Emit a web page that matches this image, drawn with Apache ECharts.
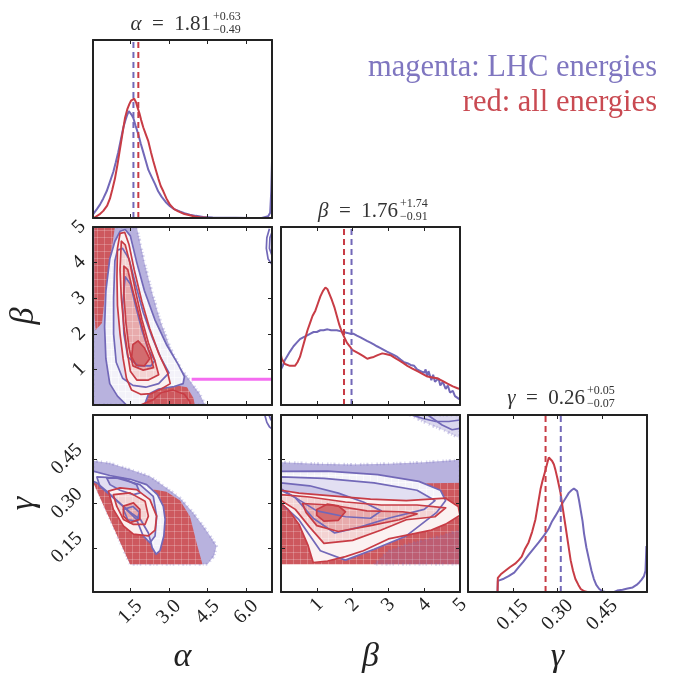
<!DOCTYPE html>
<html>
<head>
<meta charset="utf-8">
<script src="https://cdn.jsdelivr.net/npm/echarts@6/dist/echarts.min.js"></script>
<style>
html, body { margin: 0; padding: 0; background: #fff; }
#chart { width: 674px; height: 675px; }
</style>
</head>
<body>
<div id="chart"></div>
<script>
// tick values of the three parameters
const alphaTicks = [1.5, 3.0, 4.5, 6.0];
const betaTicks = [1, 2, 3, 4, 5];
const gammaTicks = [0.15, 0.30, 0.45];

// medians (dashed lines): alpha, beta, gamma
const medianAll = [1.81, 1.76, 0.26];
const medianLhc = [1.62, 1.97, 0.311];

// title texts: name, median, plus, minus
const titleAlpha = ['α', '1.81', '+0.63', '−0.49'];
const titleBeta = ['β', '1.76', '+1.74', '−0.91'];
const titleGamma = ['γ', '0.26', '+0.05', '−0.07'];

// 1D marginals, [value, density scaled to panel height]
const alphaHistAll = [[0.08,0],[0.15,0.01],[0.3,0.02],[0.45,0.04],[0.6,0.07],[0.71,0.11],[0.8,0.16],[0.9,0.22],[1.0,0.3],[1.1,0.39],[1.2,0.48],[1.29,0.56],[1.38,0.61],[1.46,0.64],[1.53,0.66],[1.59,0.66],[1.65,0.67],[1.72,0.65],[1.78,0.62],[1.85,0.59],[1.92,0.55],[2.0,0.51],[2.1,0.47],[2.2,0.43],[2.3,0.37],[2.39,0.32],[2.49,0.27],[2.59,0.22],[2.68,0.18],[2.78,0.15],[2.9,0.11],[3.04,0.075],[3.2,0.05],[3.36,0.037],[3.6,0.022],[3.81,0.015],[4.0,0.008],[4.2,0.004],[4.5,0.001],[5.0,0],[7.0,0]];
const alphaHistLhc = [[0.05,0.02],[0.09,0.03],[0.2,0.05],[0.32,0.075],[0.45,0.11],[0.58,0.15],[0.7,0.2],[0.84,0.26],[0.93,0.31],[1.03,0.37],[1.13,0.44],[1.23,0.51],[1.31,0.55],[1.38,0.58],[1.44,0.6],[1.49,0.6],[1.55,0.58],[1.62,0.56],[1.7,0.52],[1.81,0.47],[1.9,0.42],[2.0,0.37],[2.1,0.32],[2.2,0.27],[2.33,0.23],[2.46,0.19],[2.58,0.15],[2.71,0.12],[2.87,0.09],[3.04,0.066],[3.2,0.05],[3.42,0.037],[3.6,0.027],[3.81,0.019],[4.05,0.012],[4.33,0.006],[4.7,0.003],[5.1,0.002],[5.6,0.001],[6.2,0],[6.6,0],[6.85,0.01],[6.93,0.03],[6.97,0.15],[7.0,0.32]];
const betaHistAll = [[0.0,0.28],[0.02,0.26],[0.11,0.23],[0.25,0.22],[0.39,0.22],[0.46,0.24],[0.53,0.27],[0.6,0.32],[0.67,0.37],[0.74,0.42],[0.81,0.46],[0.88,0.5],[0.96,0.53],[1.03,0.57],[1.1,0.61],[1.17,0.64],[1.24,0.66],[1.3,0.65],[1.36,0.62],[1.42,0.59],[1.49,0.55],[1.56,0.5],[1.63,0.45],[1.7,0.41],[1.77,0.38],[1.84,0.35],[1.92,0.33],[1.99,0.31],[2.08,0.3],[2.17,0.29],[2.3,0.275],[2.41,0.26],[2.5,0.265],[2.59,0.27],[2.7,0.28],[2.83,0.29],[2.95,0.285],[3.06,0.28],[3.18,0.265],[3.3,0.25],[3.42,0.235],[3.53,0.22],[3.67,0.205],[3.81,0.19],[3.95,0.175],[4.09,0.16],[4.23,0.155],[4.37,0.15],[4.51,0.135],[4.65,0.12],[4.8,0.105],[4.93,0.094],[5.0,0.09]];
const betaHistLhc = [[0.0,0.2],[0.05,0.22],[0.1,0.25],[0.16,0.27],[0.25,0.3],[0.35,0.33],[0.44,0.35],[0.53,0.37],[0.62,0.38],[0.72,0.39],[0.81,0.4],[0.91,0.41],[1.0,0.41],[1.1,0.42],[1.19,0.42],[1.3,0.425],[1.4,0.42],[1.47,0.42],[1.56,0.42],[1.65,0.415],[1.75,0.41],[1.85,0.405],[1.94,0.4],[2.03,0.4],[2.12,0.39],[2.22,0.38],[2.31,0.37],[2.4,0.36],[2.5,0.35],[2.59,0.34],[2.68,0.33],[2.78,0.32],[2.87,0.31],[2.96,0.3],[3.06,0.29],[3.16,0.28],[3.25,0.27],[3.34,0.255],[3.44,0.24],[3.53,0.235],[3.62,0.225],[3.72,0.22],[3.8,0.2],[3.9,0.19],[4.0,0.18],[4.04,0.2],[4.08,0.16],[4.12,0.19],[4.2,0.14],[4.25,0.17],[4.3,0.13],[4.4,0.15],[4.45,0.11],[4.52,0.13],[4.6,0.09],[4.66,0.11],[4.72,0.07],[4.8,0.08],[4.86,0.05],[4.93,0.04],[5.0,0.03]];
const gammaHistAll = [[0,0],[0.099,0],[0.1,0.08],[0.11,0.1],[0.125,0.12],[0.14,0.14],[0.158,0.16],[0.17,0.18],[0.18,0.2],[0.19,0.24],[0.203,0.28],[0.215,0.34],[0.226,0.41],[0.235,0.5],[0.243,0.58],[0.25,0.63],[0.26,0.69],[0.266,0.73],[0.271,0.76],[0.277,0.76],[0.282,0.74],[0.288,0.72],[0.293,0.69],[0.3,0.64],[0.31,0.56],[0.318,0.47],[0.327,0.37],[0.335,0.28],[0.344,0.18],[0.352,0.12],[0.36,0.073],[0.37,0.04],[0.378,0.017],[0.39,0.004],[0.4,0],[0.6,0]];
const gammaHistLhc = [[0,0],[0.099,0],[0.1,0.063],[0.12,0.075],[0.136,0.09],[0.155,0.11],[0.17,0.14],[0.185,0.17],[0.203,0.21],[0.22,0.245],[0.237,0.28],[0.255,0.32],[0.271,0.36],[0.282,0.4],[0.293,0.43],[0.305,0.465],[0.316,0.5],[0.327,0.53],[0.338,0.56],[0.347,0.575],[0.355,0.585],[0.361,0.58],[0.366,0.57],[0.372,0.52],[0.378,0.46],[0.384,0.4],[0.389,0.33],[0.397,0.25],[0.406,0.18],[0.414,0.12],[0.422,0.073],[0.43,0.04],[0.44,0.017],[0.45,0.005],[0.46,0],[0.49,0],[0.5,0.008],[0.518,0.013],[0.535,0.02],[0.552,0.026],[0.565,0.04],[0.574,0.054],[0.582,0.07],[0.59,0.09],[0.595,0.12],[0.598,0.26],[0.6,0.26]];

// beta vs alpha: sample clouds, contour levels
const baCloudLhc = [[0.05,0],[0.05,5],[1.75,5],[1.9,4.5],[2.05,4.0],[2.33,3.2],[2.65,2.4],[3.04,1.62],[3.43,1.06],[3.82,0.68],[4.05,0.45],[4.2,0.31],[4.4,0]];
const baCloudAllLeft = [[0.1,5],[0.9,5],[0.8,4.5],[0.65,3.8],[0.5,3.0],[0.4,2.3],[0.15,2.1],[0.1,2.6]];
const baCloudAllLow = [[2.0,0],[2.1,0.3],[2.6,0.48],[3.3,0.55],[3.7,0.5],[3.95,0.2],[4.0,0]];
const baLhc1 = [[1.35,0],[1.0,0.25],[0.7,0.6],[0.55,1.3],[0.5,2.2],[0.55,3.2],[0.7,4.1],[0.9,4.6],[1.1,4.88],[1.3,4.93],[1.5,4.75],[1.75,4.0],[2.05,3.2],[2.45,2.4],[2.9,1.7],[3.35,1.15],[3.6,0.8],[3.55,0.6],[3.2,0.52],[2.6,0.45],[2.2,0.3],[2.05,0]];
const baLhc2 = [[0.9,4.05],[0.85,3.0],[0.85,2.0],[0.95,1.2],[1.2,0.75],[1.6,0.55],[2.1,0.5],[2.6,0.6],[3.0,0.9],[2.7,1.3],[2.35,1.9],[2.0,2.6],[1.7,3.4],[1.45,4.1],[1.2,4.4],[1.0,4.35]];
const baLhc3 = [[1.3,3.6],[1.2,2.8],[1.25,2.0],[1.4,1.35],[1.8,1.1],[2.3,1.1],[2.45,1.25],[2.2,1.55],[1.95,2.1],[1.7,2.8],[1.5,3.4]];
const baAll1 = [[1.1,4.82],[1.0,4.4],[0.98,3.6],[1.0,2.8],[1.1,2.0],[1.22,1.3],[1.35,0.75],[1.55,0.42],[1.9,0.3],[2.3,0.32],[2.7,0.45],[3.05,0.6],[2.95,0.9],[2.6,1.45],[2.25,2.15],[1.95,2.9],[1.65,3.8],[1.45,4.5],[1.28,4.85]];
const baAll2 = [[1.15,4.6],[1.1,3.8],[1.15,3.0],[1.25,2.2],[1.38,1.5],[1.5,0.95],[1.75,0.7],[2.2,0.7],[2.6,0.85],[2.45,1.25],[2.2,1.75],[1.95,2.4],[1.7,3.2],[1.48,4.0],[1.3,4.5]];
const baAll3 = [[1.25,3.9],[1.25,3.1],[1.33,2.3],[1.45,1.6],[1.6,1.1],[2.0,0.98],[2.4,1.05],[2.3,1.35],[2.1,1.8],[1.85,2.5],[1.6,3.2],[1.4,3.8]];
const baAll4 = [[1.6,1.7],[1.55,1.35],[1.72,1.12],[2.05,1.1],[2.25,1.3],[2.05,1.6],[1.8,1.8]];
const baAllLow = [[1.9,0],[2.4,0.15],[2.7,0.35],[3.15,0.42],[3.6,0.3],[3.8,0.1],[3.85,0]];
const baLhcEdgeA = [[7.0,3.95],[6.85,4.1],[6.78,4.4],[6.8,4.7],[6.9,4.95]];
const baLhcEdgeB = [[7.0,4.2],[6.9,4.4],[6.92,4.7],[7.0,4.85]];
const baPrior = [[3.88,0.72],[7.0,0.72]];

// gamma vs alpha
const gaCloudLhc = [[0.05,0.445],[0.7,0.437],[1.5,0.415],[2.26,0.392],[2.9,0.353],[3.43,0.319],[3.94,0.269],[4.33,0.224],[4.6,0.19],[4.85,0.156],[4.75,0.122],[4.5,0.094],[1.49,0.094],[0.05,0.38]];
const gaCloudAll = [[0.06,0.37],[0.6,0.36],[1.5,0.36],[2.26,0.35],[2.9,0.34],[3.43,0.31],[3.82,0.255],[4.07,0.167],[4.3,0.094],[1.49,0.094]];
const gaLhc1 = [[0.05,0.41],[0.7,0.395],[1.5,0.382],[2.13,0.364],[2.55,0.33],[2.78,0.29],[2.85,0.246],[2.8,0.19],[2.65,0.14],[2.5,0.128],[2.35,0.15],[2.2,0.2],[1.9,0.245],[1.5,0.27],[1.1,0.3],[0.6,0.34],[0.2,0.37],[0.05,0.375]];
const gaLhc2 = [[0.2,0.39],[0.97,0.387],[1.87,0.364],[2.39,0.324],[2.52,0.257],[2.46,0.19],[2.26,0.167],[2.0,0.19],[1.74,0.246],[1.1,0.3],[0.32,0.358]];
const gaLhc3 = [[0.58,0.387],[1.23,0.385],[1.74,0.364],[1.87,0.336],[1.62,0.33],[1.1,0.345],[0.71,0.364]];
const gaLhc4 = [[1.23,0.28],[1.6,0.29],[1.85,0.27],[1.75,0.24],[1.4,0.245]];
const gaAll1 = [[0.65,0.342],[1.1,0.353],[1.74,0.347],[2.26,0.313],[2.52,0.257],[2.46,0.21],[2.2,0.19],[1.62,0.196],[1.23,0.224],[0.84,0.28]];
const gaAll2 = [[0.84,0.33],[1.49,0.336],[2.07,0.308],[2.2,0.257],[2.07,0.229],[1.62,0.229],[1.23,0.246],[0.97,0.291]];
const gaAll3 = [[1.23,0.291],[1.62,0.302],[1.87,0.28],[1.87,0.246],[1.49,0.235],[1.23,0.257]];
const gaLhcEdgeA = [[6.72,0.6],[6.8,0.575],[6.9,0.56],[7.0,0.553]];
const gaLhcEdgeB = [[6.88,0.6],[6.95,0.585],[7.0,0.58]];

// gamma vs beta
const gbCloudLhc = [[0,0.44],[1,0.435],[2,0.432],[3,0.435],[4,0.44],[5,0.448],[5,0.35],[0,0.35]];
const gbCloudAll = [[0,0.36],[5,0.37],[5,0.094],[0,0.094]];
const gbCloudLhcLow = [[2.6,0.094],[3.0,0.14],[3.6,0.165],[4.3,0.185],[5,0.21],[5,0.094]];
const gbCloudLhcTop = [[3.6,0.6],[5,0.6],[5,0.52],[4.6,0.545],[4.1,0.57]];
const gbLhc1 = [[0,0.409],[1.3,0.41],[2.7,0.398],[3.85,0.375],[4.45,0.345],[4.6,0.31],[4.35,0.27],[3.5,0.19],[2.6,0.145],[1.8,0.108],[1.1,0.14],[0.5,0.245],[0,0.3]];
const gbLhc2 = [[0,0.39],[1.2,0.385],[2.6,0.37],[3.8,0.345],[4.3,0.31],[4.0,0.28],[3.0,0.25],[2.2,0.22],[1.5,0.2],[0.9,0.25],[0.4,0.32],[0,0.345]];
const gbLhc3 = [[0,0.37],[0.8,0.36],[1.6,0.335],[2.3,0.305],[2.8,0.275],[2.5,0.25],[1.8,0.255],[1.0,0.275],[0.4,0.32],[0,0.35]];
const gbAll1 = [[0,0.345],[0.5,0.335],[1.5,0.325],[2.5,0.315],[3.5,0.31],[4.6,0.318],[4.95,0.29],[5,0.26],[4.6,0.23],[4.2,0.21],[3.0,0.18],[2.3,0.14],[1.8,0.12],[1.3,0.105],[0.9,0.1],[0.75,0.16],[0.5,0.23],[0.2,0.28],[0,0.3]];
const gbAll2 = [[0,0.33],[0.8,0.322],[1.8,0.305],[2.8,0.295],[3.8,0.295],[4.6,0.285],[4.3,0.255],[3.5,0.245],[2.8,0.21],[2.0,0.175],[1.2,0.165],[0.8,0.22],[0.4,0.28],[0,0.31]];
const gbAll3 = [[0.6,0.3],[1.4,0.295],[2.4,0.275],[3.4,0.272],[3.8,0.265],[3.3,0.245],[2.5,0.225],[1.6,0.205],[1.0,0.225],[0.7,0.27]];
const gbAll4 = [[1.0,0.28],[1.3,0.298],[1.6,0.292],[1.8,0.272],[1.6,0.243],[1.2,0.24],[1.0,0.26]];
const gbLhcEdgeA = [[3.66,0.6],[3.94,0.589],[4.32,0.578],[4.69,0.578],[5,0.583]];
const gbLhcEdgeB = [[4.1,0.6],[4.5,0.566],[4.78,0.55],[5,0.555]];

const PURPLE = '#7268b8';
const RED = '#c83c45';
const INK = '#222';
const SERIF = 'Liberation Serif';

const gridPos = [[93, 40], [93, 227], [281, 227], [93, 415], [281, 415], [468, 415]];
const panels = [
	{ x: 'alpha', y: 'hist' },
	{ x: 'alpha', y: 'beta', yLabel: true },
	{ x: 'beta', y: 'hist' },
	{ x: 'alpha', y: 'gamma', xLabel: true, yLabel: true },
	{ x: 'beta', y: 'gamma', xLabel: true },
	{ x: 'gamma', y: 'hist', xLabel: true },
];
const axisRange = { alpha: [0.05, 7], beta: [0, 5], gamma: [0, 0.6], hist: [0, 1] };
const axisTicks = { alpha: alphaTicks, beta: betaTicks, gamma: gammaTicks, hist: [] };
const axisFmt = { alpha: v => v.toFixed(1), beta: v => String(v), gamma: v => v.toFixed(2), hist: () => '' };
const axisName = { alpha: 'α', beta: 'β', gamma: 'γ' };
const labelMargin = { x: { alpha: 20, beta: 13, gamma: 23 }, y: { beta: 14, gamma: 26 } };

function makeAxis(kind, dim, position, gridIndex, withLabel) {
	const [min, max] = axisRange[kind];
	const ticks = axisTicks[kind];
	const axis = {
		type: 'value', gridIndex, position, min, max, z: 10,
		axisLine: { show: true, onZero: false, lineStyle: { color: INK, width: 2 } },
		axisTick: { show: ticks.length > 0, inside: true, length: 4, customValues: ticks, lineStyle: { color: INK, width: 1 } },
		axisLabel: {
			show: !!withLabel, customValues: ticks, formatter: axisFmt[kind], rotate: 45,
			fontFamily: SERIF, fontSize: 20, color: INK, align: 'center', verticalAlign: 'middle',
			margin: withLabel ? labelMargin[dim][kind] : 8,
		},
		splitLine: { show: false },
	};
	if (withLabel) {
		axis.name = axisName[kind];
		axis.nameLocation = 'middle';
		axis.nameGap = dim === 'x' ? 48 : 52;
		axis.nameRotate = dim === 'x' ? 0 : 90;
		axis.nameTextStyle = { fontFamily: SERIF, fontStyle: 'italic', fontSize: 34, color: INK };
	}
	return axis;
}

const grid = [], xAxis = [], yAxis = [];
panels.forEach((p, i) => {
	grid.push({ left: gridPos[i][0], top: gridPos[i][1], width: 179, height: 178 });
	xAxis.push(makeAxis(p.x, 'x', 'bottom', i, p.xLabel));
	xAxis.push(makeAxis(p.x, 'x', 'top', i, false));
	yAxis.push(makeAxis(p.y, 'y', 'left', i, p.yLabel));
	yAxis.push(makeAxis(p.y, 'y', 'right', i, false));
});

// binned-density look: solid colour crossed by faint white bin edges
function binPattern(color, lineAlpha) {
	const c = document.createElement('canvas');
	c.width = 7; c.height = 7;
	const ctx = c.getContext('2d');
	ctx.fillStyle = color;
	ctx.fillRect(0, 0, 7, 7);
	ctx.fillStyle = 'rgba(255,255,255,' + lineAlpha + ')';
	ctx.fillRect(6, 0, 1, 7);
	ctx.fillRect(0, 6, 7, 1);
	return { image: c, repeat: 'repeat' };
}

// polygon / polyline drawn through the panel's own axes
function shape(gi, pts, style, closed = true) {
	return {
		type: 'custom', xAxisIndex: gi * 2, yAxisIndex: gi * 2, clip: true, silent: true,
		data: pts,
		renderItem: (params, api) => {
			if (params.dataIndex !== 0) return null;
			return {
				type: closed ? 'polygon' : 'polyline',
				shape: { points: pts.map(p => api.coord(p)) },
				style: Object.assign({ fill: closed ? '#fff' : null, lineJoin: 'round' }, style),
			};
		},
	};
}
const fill = (gi, pts, color) => shape(gi, pts, { fill: color });
const speckled = (gi, pts, color, edge) => shape(gi, pts, { fill: color, stroke: edge, lineWidth: 3, lineDash: [1, 2, 2, 3, 1, 4, 1.5, 2] });
const ring = (gi, pts, color) => shape(gi, pts, { fill: null, stroke: color, lineWidth: 1.7 });
const open = (gi, pts, color, w = 1.7) => shape(gi, pts, { fill: null, stroke: color, lineWidth: w }, false);

function histLine(gi, data, color) {
	return {
		type: 'line', xAxisIndex: gi * 2, yAxisIndex: gi * 2, data, showSymbol: false,
		lineStyle: { color, width: 2 }, silent: true,
	};
}
function medianLine(gi, value, color) {
	return {
		type: 'line', xAxisIndex: gi * 2, yAxisIndex: gi * 2, data: [[value, 0], [value, 1]], showSymbol: false,
		lineStyle: { color, width: 2, type: [6, 4] }, silent: true,
	};
}

const CLOUD_LHC = 'rgba(125,115,195,0.55)';
const CLOUD_LHC_EDGE = 'rgba(125,115,195,0.32)';
const CLOUD_ALL = binPattern('rgb(205,88,94)', 0.22);
const LHC_FILLS = [binPattern('#f3f2f9', 0.5), '#e2dff2', '#cbc6e7'];
const ALL_FILLS = ['#fbf1f1', binPattern('#f3d3d3', 0.3), binPattern('#e8abac', 0.25), '#d36c6f'];

function panel2d(gi, lhcClouds, allClouds, lhcLevels, allLevels, extras) {
	const out = [];
	lhcClouds.forEach(c => out.push(speckled(gi, c, CLOUD_LHC, CLOUD_LHC_EDGE)));
	allClouds.forEach(c => out.push(fill(gi, c, CLOUD_ALL)));
	lhcLevels.forEach((c, k) => out.push(fill(gi, c, LHC_FILLS[Math.min(k, 2)])));
	allLevels.forEach((c, k) => out.push(fill(gi, c, ALL_FILLS[Math.min(k, 3)])));
	lhcLevels.forEach(c => out.push(ring(gi, c, PURPLE)));
	allLevels.forEach(c => out.push(ring(gi, c, RED)));
	return out.concat(extras);
}

const series = [
	histLine(0, alphaHistLhc, PURPLE), histLine(0, alphaHistAll, RED),
	medianLine(0, medianLhc[0], PURPLE), medianLine(0, medianAll[0], RED),
	histLine(2, betaHistLhc, PURPLE), histLine(2, betaHistAll, RED),
	medianLine(2, medianLhc[1], PURPLE), medianLine(2, medianAll[1], RED),
	histLine(5, gammaHistLhc, PURPLE), histLine(5, gammaHistAll, RED),
	medianLine(5, medianLhc[2], PURPLE), medianLine(5, medianAll[2], RED),
	...panel2d(1,
		[baCloudLhc], [baCloudAllLeft, baCloudAllLow],
		[baLhc1, baLhc2, baLhc3], [baAll1, baAll2, baAll3, baAll4],
		[open(1, baAllLow, RED), open(1, baLhcEdgeA, PURPLE), open(1, baLhcEdgeB, PURPLE), open(1, baPrior, '#f46cf0', 3)]),
	...panel2d(3,
		[gaCloudLhc], [gaCloudAll],
		[gaLhc1, gaLhc2, gaLhc3, gaLhc4], [gaAll1, gaAll2, gaAll3],
		[open(3, gaLhcEdgeA, PURPLE), open(3, gaLhcEdgeB, PURPLE)]),
	...panel2d(4,
		[gbCloudLhc], [gbCloudAll],
		[gbLhc1, gbLhc2, gbLhc3], [gbAll1, gbAll2, gbAll3, gbAll4],
		[
			// sparse LHC points over the red band and near the top edge
			speckled(4, gbCloudLhcLow, 'rgba(125,115,195,0.2)', 'rgba(125,115,195,0.25)'),
			speckled(4, gbCloudLhcTop, 'rgba(125,115,195,0.28)', 'rgba(125,115,195,0.35)'),
			open(4, gbLhcEdgeA, PURPLE), open(4, gbLhcEdgeB, PURPLE),
		]),
];

// panel titles with super/subscript errors
function titleGraphic(t, xEnd, yMid) {
	return [
		{ type: 'text', x: xEnd, y: yMid, style: {
			text: '{g|' + t[0] + '}{n|  =  ' + t[1] + '}', align: 'right', verticalAlign: 'middle',
			rich: { g: { fontFamily: SERIF, fontStyle: 'italic', fontSize: 21, fill: '#333' }, n: { fontFamily: SERIF, fontSize: 21, fill: '#333' } } } },
		{ type: 'text', x: xEnd + 2, y: yMid - 7, style: { text: t[2], fontFamily: SERIF, fontSize: 12, fill: '#333', align: 'left', verticalAlign: 'middle' } },
		{ type: 'text', x: xEnd + 2, y: yMid + 6, style: { text: t[3], fontFamily: SERIF, fontSize: 12, fill: '#333', align: 'left', verticalAlign: 'middle' } },
	];
}

const graphic = [
	...titleGraphic(titleAlpha, 211, 24),
	...titleGraphic(titleBeta, 398, 211),
	...titleGraphic(titleGamma, 585, 398),
	{ type: 'text', x: 657, y: 68, style: { text: 'magenta: LHC energies', fontFamily: SERIF, fontSize: 30.5, fill: '#7f76c0', align: 'right', verticalAlign: 'middle' } },
	{ type: 'text', x: 657, y: 103, style: { text: 'red: all energies', fontFamily: SERIF, fontSize: 30.5, fill: '#c94a52', align: 'right', verticalAlign: 'middle' } },
];

const chart = echarts.init(document.getElementById('chart'), null, { renderer: 'canvas' });
chart.setOption({ animation: false, backgroundColor: '#fff', grid, xAxis, yAxis, series, graphic });
</script>
</body>
</html>
